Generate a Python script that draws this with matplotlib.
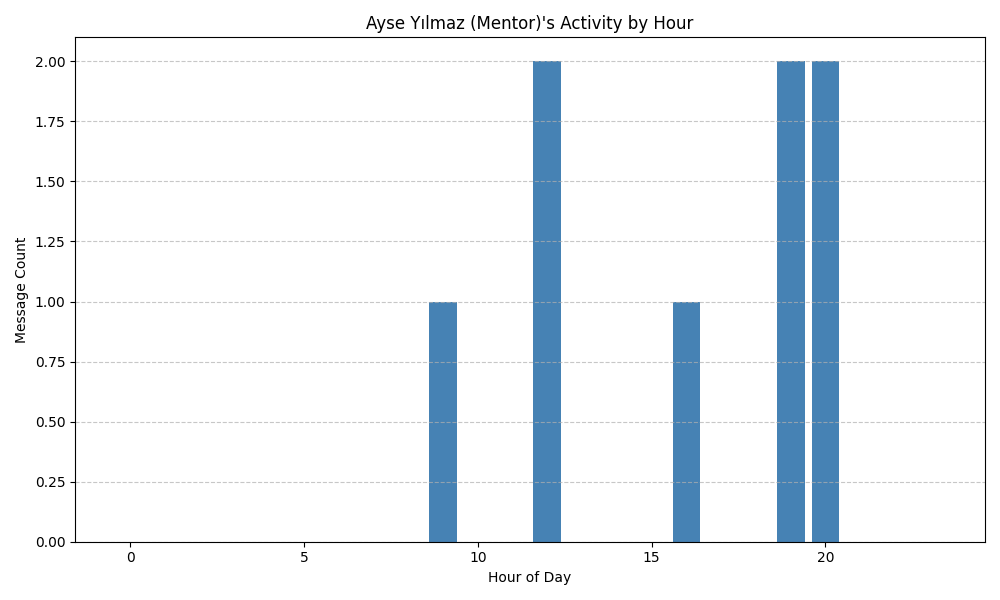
import matplotlib
matplotlib.use("Agg")
import matplotlib.pyplot as plt

hours = list(range(24))
counts = [0, 0, 0, 0, 0, 0, 0, 0, 0, 1, 0, 0, 2, 0, 0, 0, 1, 0, 0, 2, 2, 0, 0, 0]

plt.figure(figsize=(10, 6))
plt.bar(hours, counts, color='steelblue')
plt.title("Ayse Yılmaz (Mentor)'s Activity by Hour")
plt.xlabel('Hour of Day')
plt.ylabel('Message Count')
plt.grid(axis='y', linestyle='--', alpha=0.7)
plt.tight_layout()
plt.savefig('out.png', dpi=100)
